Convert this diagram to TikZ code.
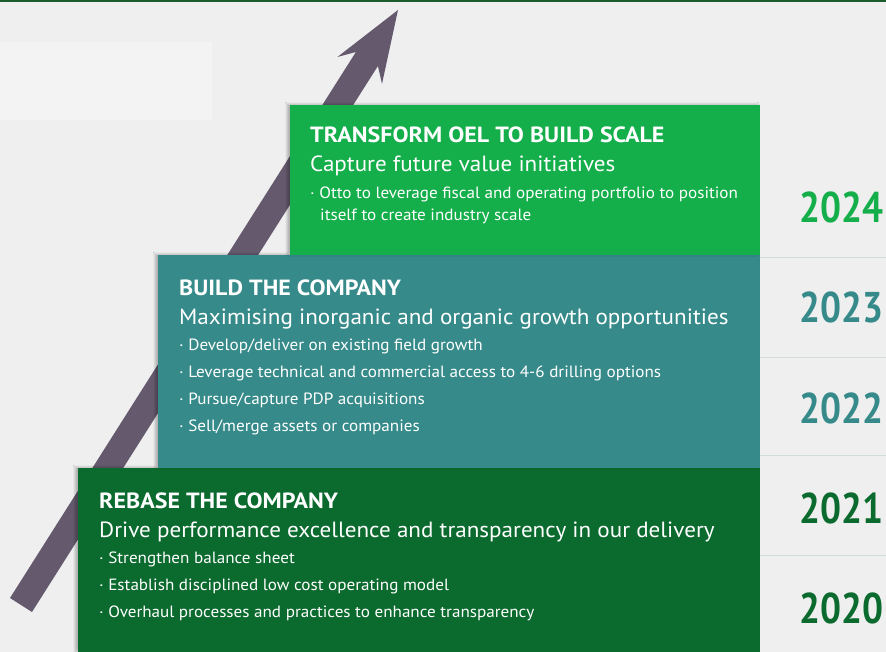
\documentclass[tikz,border=0pt]{standalone}
\usepackage{fontspec}
\setmainfont{PT Sans}
\newfontfamily\wideText{PT Sans}[FakeStretch=1.05]
\newfontfamily\wideHead{PT Sans}[FakeStretch=1.09]
\usetikzlibrary{shadows.blur}
\definecolor{bgGrey}{HTML}{EFEFEF}
\definecolor{paleBox}{HTML}{F3F3F3}
\definecolor{topLine}{HTML}{1B5E2B}
\definecolor{arrowPurple}{HTML}{65596E}
\definecolor{brightGreen}{HTML}{14AE4A}
\definecolor{tealGreen}{HTML}{368A8A}
\definecolor{darkGreen}{HTML}{0B6A2E}
\definecolor{sepLine}{HTML}{D3DDD8}
\newcommand{\yr}[1]{\scalebox{0.86}[1]{#1}}
\tikzset{
    stage/.style={blur shadow={shadow xshift=-3pt, shadow yshift=1pt, shadow blur steps=8, shadow opacity=25}},
    txt/.style={anchor=base west, inner sep=0pt, text=white},
    head/.style={txt, font=\wideHead\bfseries\fontsize{22}{25}\selectfont},
    sub/.style={txt, font=\wideText\fontsize{22}{26}\selectfont},
    item/.style={txt, font=\wideText\fontsize{16.3}{19}\selectfont},
    year/.style={anchor=base west, inner sep=0pt, font=\bfseries\fontsize{43}{48}\selectfont}
}
\begin{document}
\begin{tikzpicture}[x=1pt, y=-1pt]
    \useasboundingbox (0,0) rectangle (886,652);
    \fill[bgGrey] (0,0) rectangle (886,652);
    \fill[topLine] (0,0) rectangle (886,2);
    \fill[paleBox] (0,42) rectangle (212,120);

    \coordinate (Tip) at (398,10);
    \coordinate (BarbL) at (337.4,57);
    \coordinate (BarbR) at (382,83.9);
    \coordinate (NeckL) at (355.9,52);
    \coordinate (NeckR) at (377.9,66);
    \coordinate (FootL) at (10,598);
    \coordinate (FootR) at (32,612);
    \fill[arrowPurple] (Tip) -- (BarbR) -- (NeckR) -- (FootR) -- (FootL) -- (NeckL) -- (BarbL) -- cycle;

    \foreach \y in {257,357,455,555}
        \draw[sepLine, line width=0.8pt] (760,\y) -- (886,\y);

    \fill[darkGreen, stage] (78,468) rectangle (760,652);
    \fill[tealGreen, stage] (158,255) rectangle (760,468);
    \fill[brightGreen, stage] (290,105) rectangle (760,255);

    \node[head] (transform) at (310,143) {TRANSFORM OEL TO BUILD SCALE};
    \node[sub] (capture) at (310,172) {Capture future value initiatives};
    \node[item] (otto) at (310,199) {· Otto to leverage fiscal and operating portfolio to position};
    \node[item] (otto2) at (320,221) {itself to create industry scale};

    \node[head] (build) at (179,295) {BUILD THE COMPANY};
    \node[sub] (maximise) at (179,324) {Maximising inorganic and organic growth opportunities};
    \node[item] (develop) at (179,350) {· Develop/deliver on existing field growth};
    \node[item] (leverage) at (179,377) {· Leverage technical and commercial access to 4-6 drilling options};
    \node[item] (pursue) at (179,404) {· Pursue/capture PDP acquisitions};
    \node[item] (sell) at (179,431) {· Sell/merge assets or companies};

    \node[head] (rebase) at (99,508) {REBASE THE COMPANY};
    \node[sub] (drive) at (99,537) {Drive performance excellence and transparency in our delivery};
    \node[item] (strengthen) at (99,563) {· Strengthen balance sheet};
    \node[item] (establish) at (99,590) {· Establish disciplined low cost operating model};
    \node[item] (overhaul) at (99,617) {· Overhaul processes and practices to enhance transparency};

    \node[year, text=brightGreen] (y2024) at (799,223) {\yr{2024}};
    \node[year, text=tealGreen] (y2023) at (799,323) {\yr{2023}};
    \node[year, text=tealGreen] (y2022) at (799,423) {\yr{2022}};
    \node[year, text=darkGreen] (y2021) at (799,523) {\yr{2021}};
    \node[year, text=darkGreen] (y2020) at (799,623) {\yr{2020}};
\end{tikzpicture}
\end{document}
